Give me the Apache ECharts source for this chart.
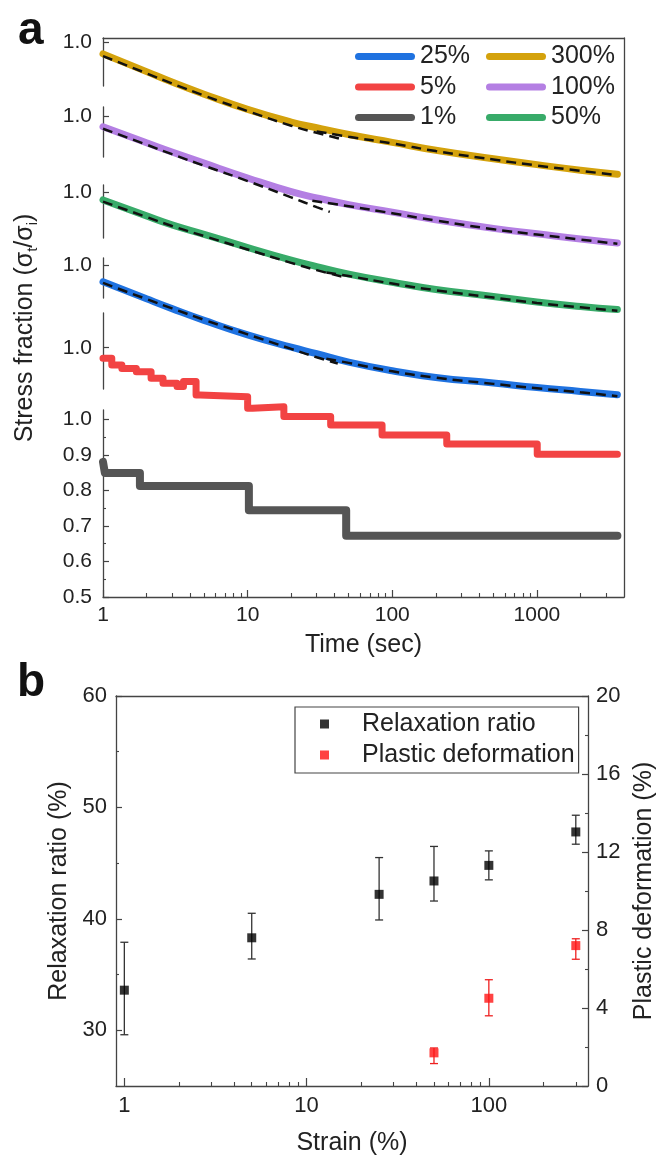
<!DOCTYPE html>
<html><head><meta charset="utf-8">
<script src="https://cdn.jsdelivr.net/npm/echarts@6/dist/echarts.min.js"></script>
<style>html,body{margin:0;padding:0;background:#fff}#c{width:656px;height:1157px}</style>
</head><body><div id="c"></div>
<script>
// ===== Panel a data: stress fraction vs time (sec) =====
const timeSec = [1, 2, 3, 5, 10, 20, 30, 50, 100, 200, 500, 1000, 2000, 3600];
const strain300 = [0.958, 0.895, 0.858, 0.815, 0.761, 0.716, 0.696, 0.672, 0.644, 0.616, 0.586, 0.565, 0.545, 0.531];
const strain100 = [0.964, 0.907, 0.874, 0.834, 0.781, 0.732, 0.710, 0.686, 0.659, 0.632, 0.601, 0.582, 0.563, 0.549];
const strain50  = [0.974, 0.917, 0.885, 0.851, 0.804, 0.759, 0.736, 0.709, 0.680, 0.654, 0.629, 0.609, 0.593, 0.582];
const strain25  = [0.940, 0.879, 0.844, 0.802, 0.750, 0.706, 0.683, 0.653, 0.622, 0.598, 0.578, 0.562, 0.548, 0.536];
const strain5Time = [1, 1.15, 1.35, 1.7, 2.15, 2.6, 3.25, 3.6, 4.4, 4.7, 10, 10.8, 17.8, 37.5, 85, 238, 1005, 3600];
const strain5     = [0.962, 0.938, 0.926, 0.914, 0.891, 0.873, 0.861, 0.879, 0.831, 0.825, 0.784, 0.789, 0.754, 0.724, 0.688, 0.656, 0.619, 0.619];
const strain1Time = [1, 1.03, 1.8, 10.2, 48, 3600];
const strain1     = [0.88, 0.849, 0.812, 0.744, 0.672, 0.672];

// fitted curves (dashed): early-time and long-time segments
const fit300EarlyT = [1, 2, 3, 5, 10, 20, 30, 45];
const fit300Early  = [0.950, 0.889, 0.853, 0.810, 0.755, 0.703, 0.678, 0.655];
const fit300LateT  = [30, 50, 100, 200, 500, 1000, 2000, 3600];
const fit300Late   = [0.683, 0.664, 0.640, 0.613, 0.583, 0.562, 0.543, 0.528];
const fit100EarlyT = [1, 2, 3, 5, 10, 20, 30, 37];
const fit100Early  = [0.957, 0.900, 0.866, 0.825, 0.770, 0.712, 0.677, 0.660];
const fit100LateT  = [28, 50, 100, 200, 500, 1000, 2000, 3600];
const fit100Late   = [0.700, 0.680, 0.655, 0.629, 0.598, 0.579, 0.561, 0.546];
const fit50EarlyT  = [1, 2, 3, 5, 10, 20, 30, 45];
const fit50Early   = [0.968, 0.913, 0.881, 0.845, 0.797, 0.749, 0.723, 0.700];
const fit50LateT   = [35, 50, 100, 200, 500, 1000, 2000, 3600];
const fit50Late    = [0.715, 0.702, 0.675, 0.651, 0.625, 0.606, 0.590, 0.578];
const fit25EarlyT  = [1, 2, 3, 5, 10, 20, 30, 42];
const fit25Early   = [0.936, 0.878, 0.845, 0.804, 0.752, 0.700, 0.670, 0.648];
const fit25LateT   = [35, 50, 100, 200, 500, 1000, 2000, 3600];
const fit25Late    = [0.665, 0.650, 0.620, 0.597, 0.575, 0.559, 0.545, 0.531];

const timeTicks = [1, 10, 100, 1000];
const timeMinorTicks = [2,3,4,5,6,7,8,9,20,30,40,50,60,70,80,90,200,300,400,500,600,700,800,900,2000,3000];
const fracTicks = [0.5, 0.6, 0.7, 0.8, 0.9, 1.0];
const fracMinorTicks = [0.55, 0.65, 0.75, 0.85, 0.95];

// ===== Panel b data =====
const strainPct = [1, 5, 25, 50, 100, 300];
const relaxRatio = [33.6, 38.3, 42.2, 43.4, 44.8, 47.8];
const relaxLow   = [29.6, 36.4, 39.9, 41.6, 43.5, 46.7];
const relaxHigh  = [37.9, 40.5, 45.5, 46.5, 46.1, 49.3];
const plasticStrain = [50, 100, 300];
const plasticDef  = [1.7, 4.5, 7.2];
const plasticLow  = [1.15, 3.6, 6.5];
const plasticHigh = [1.95, 5.45, 7.55];
const strainTicks = [1, 10, 100];
const strainMinorTicks = [2,3,4,5,6,7,8,9,20,30,40,50,60,70,80,90,200,300];
const relaxTicks = [30, 40, 50, 60];
const relaxMinorTicks = [35, 45, 55];
const plasticTicks = [0, 4, 8, 12, 16, 20];
const plasticMinorTicks = [2, 6, 10, 14, 18];

// ===== styling =====
const FONT = '"Liberation Sans", Arial, sans-serif';
const AXC = '#444';
const TXT = '#222';
const COL = {s300: '#d4a20c', s100: '#b47fe3', s50: '#38ab69', s25: '#1f72e0', s5: '#f24343', s1: '#555555'};
const zip = (a, b) => a.map((v, i) => [v, b[i]]);

const grids = [
  {left: 103, top: 38, width: 521, height: 559},   // 0 frame a
  {left: 103, top: 38, width: 521, height: 48},    // 1 300%
  {left: 103, top: 107, width: 521, height: 50},   // 2 100%
  {left: 103, top: 185, width: 521, height: 53},   // 3 50%
  {left: 103, top: 258, width: 521, height: 40},   // 4 25%
  {left: 103, top: 313, width: 521, height: 76},   // 5 5%
  {left: 103, top: 410, width: 521, height: 187},  // 6 1%
  {left: 116, top: 696, width: 472, height: 390}   // 7 panel b
].map(g => Object.assign({outerBoundsMode: 'none', containLabel: false}, g));

const lineAx = {show: true, lineStyle: {color: AXC, width: 1.3}};
const noLine = {show: false};
function hiddenLogX(gi) {
  return {gridIndex: gi, type: 'log', logBase: 10, min: 1, max: 4000, show: false};
}
const xAxes = [
  {gridIndex: 0, type: 'log', logBase: 10, min: 1, max: 4000, position: 'bottom',
   axisLine: lineAx, splitLine: {show: false},
   axisTick: {inside: true, length: 7, customValues: timeTicks, lineStyle: {color: AXC, width: 1.2}},
   axisLabel: {customValues: timeTicks, margin: 8, fontSize: 21, color: TXT, fontFamily: FONT, formatter: v => String(Math.round(v))},
   name: 'Time (sec)', nameLocation: 'middle', nameGap: 36,
   nameTextStyle: {fontSize: 25, color: TXT, fontFamily: FONT}},
  {gridIndex: 0, type: 'log', logBase: 10, min: 1, max: 4000, position: 'bottom',
   axisLine: noLine, splitLine: {show: false}, axisLabel: {show: false},
   axisTick: {inside: true, length: 4, customValues: timeMinorTicks, lineStyle: {color: AXC, width: 1.1}}},
  {gridIndex: 0, type: 'log', logBase: 10, min: 1, max: 4000, position: 'top',
   axisLine: lineAx, axisTick: {show: false}, axisLabel: {show: false}, splitLine: {show: false}},
  hiddenLogX(1), hiddenLogX(2), hiddenLogX(3), hiddenLogX(4), hiddenLogX(5), hiddenLogX(6),
  {gridIndex: 7, type: 'log', logBase: 10, min: 0.9, max: 350, position: 'bottom',
   axisLine: lineAx, splitLine: {show: false},
   axisTick: {inside: true, length: 8, customValues: strainTicks, lineStyle: {color: AXC, width: 1.2}},
   axisLabel: {customValues: strainTicks, margin: 9, fontSize: 22, color: TXT, fontFamily: FONT, formatter: v => String(Math.round(v))},
   name: 'Strain (%)', nameLocation: 'middle', nameGap: 45,
   nameTextStyle: {fontSize: 25, color: TXT, fontFamily: FONT}},
  {gridIndex: 7, type: 'log', logBase: 10, min: 0.9, max: 350, position: 'bottom',
   axisLine: noLine, splitLine: {show: false}, axisLabel: {show: false},
   axisTick: {inside: true, length: 4, customValues: strainMinorTicks, lineStyle: {color: AXC, width: 1.1}}},
  {gridIndex: 7, type: 'log', logBase: 10, min: 0.9, max: 350, position: 'top',
   axisLine: lineAx, axisTick: {show: false}, axisLabel: {show: false}, splitLine: {show: false}}
];

function segY(gi, min, max) {
  return {gridIndex: gi, type: 'value', min: min, max: max, position: 'left',
    axisLine: lineAx, splitLine: {show: false},
    axisTick: {inside: true, length: 6, customValues: [1.0], lineStyle: {color: AXC, width: 1.2}},
    axisLabel: {customValues: [1.0], margin: 11, fontSize: 21, color: TXT, fontFamily: FONT, formatter: v => v.toFixed(1)}};
}
const yAxes = [
  {gridIndex: 0, type: 'value', min: 0, max: 1, position: 'right', axisLine: lineAx,
   axisTick: {show: false}, axisLabel: {show: false}, splitLine: {show: false}},
  segY(1, 0.844, 1.0143),
  segY(2, 0.856, 1.0346),
  segY(3, 0.838, 1.0275),
  segY(4, 0.882, 1.025),
  segY(5, 0.8525, 1.124),
  {gridIndex: 6, type: 'value', min: 0.5, max: 1.026, position: 'left', axisLine: lineAx, splitLine: {show: false},
   axisTick: {inside: true, length: 6, customValues: fracTicks, lineStyle: {color: AXC, width: 1.2}},
   axisLabel: {customValues: fracTicks, margin: 11, fontSize: 21, color: TXT, fontFamily: FONT, formatter: v => v.toFixed(1)}},
  {gridIndex: 6, type: 'value', min: 0.5, max: 1.026, position: 'left', axisLine: noLine, splitLine: {show: false},
   axisTick: {inside: true, length: 3, customValues: fracMinorTicks, lineStyle: {color: AXC, width: 1.1}},
   axisLabel: {show: false}},
  {gridIndex: 7, type: 'value', min: 25, max: 60, position: 'left', axisLine: lineAx, splitLine: {show: false},
   axisTick: {inside: true, length: 6, customValues: relaxTicks, lineStyle: {color: AXC, width: 1.2}},
   axisLabel: {customValues: relaxTicks, margin: 9, fontSize: 22, color: TXT, fontFamily: FONT},
   name: 'Relaxation ratio (%)', nameLocation: 'middle', nameGap: 44, nameRotate: 90,
   nameTextStyle: {fontSize: 25, color: TXT, fontFamily: FONT}},
  {gridIndex: 7, type: 'value', min: 25, max: 60, position: 'left', axisLine: noLine, splitLine: {show: false},
   axisTick: {inside: true, length: 3, customValues: relaxMinorTicks, lineStyle: {color: AXC, width: 1.1}},
   axisLabel: {show: false}},
  {gridIndex: 7, type: 'value', min: 0, max: 20, position: 'right', axisLine: lineAx, splitLine: {show: false},
   axisTick: {inside: true, length: 6, customValues: plasticTicks, lineStyle: {color: AXC, width: 1.2}},
   axisLabel: {customValues: plasticTicks, margin: 8, fontSize: 22, color: TXT, fontFamily: FONT},
   name: 'Plastic deformation (%)', nameLocation: 'middle', nameGap: 43, nameRotate: 90,
   nameTextStyle: {fontSize: 25, color: TXT, fontFamily: FONT}},
  {gridIndex: 7, type: 'value', min: 0, max: 20, position: 'right', axisLine: noLine, splitLine: {show: false},
   axisTick: {inside: true, length: 3, customValues: plasticMinorTicks, lineStyle: {color: AXC, width: 1.1}},
   axisLabel: {show: false}}
];

function curve(name, xi, yi, t, v, color, extra) {
  return Object.assign({type: 'line', name: name, xAxisIndex: xi, yAxisIndex: yi, data: zip(t, v),
    showSymbol: false, symbol: 'none', clip: false, smooth: 0.5, z: 2, color: color,
    itemStyle: {color: color},
    lineStyle: {color: color, width: 7, cap: 'round', join: 'round'}}, extra || {});
}
function fit(xi, yi, t, v) {
  return {type: 'line', xAxisIndex: xi, yAxisIndex: yi, data: zip(t, v), showSymbol: false, symbol: 'none',
    clip: false, smooth: 0.5, z: 4, silent: true,
    lineStyle: {color: '#111', width: 2.5, type: [10, 6]}};
}
function errRender(color) {
  return function (params, api) {
    const x = api.value(0), lo = api.value(1), hi = api.value(2);
    const p1 = api.coord([x, lo]), p2 = api.coord([x, hi]);
    const w = 4;
    const st = {stroke: color, lineWidth: 1.3};
    return {type: 'group', children: [
      {type: 'line', shape: {x1: p1[0], y1: p1[1], x2: p2[0], y2: p2[1]}, style: st},
      {type: 'line', shape: {x1: p1[0] - w, y1: p1[1], x2: p1[0] + w, y2: p1[1]}, style: st},
      {type: 'line', shape: {x1: p2[0] - w, y1: p2[1], x2: p2[0] + w, y2: p2[1]}, style: st}
    ]};
  };
}

const series = [
  curve('300%', 3, 1, timeSec, strain300, COL.s300),
  fit(3, 1, fit300EarlyT, fit300Early), fit(3, 1, fit300LateT, fit300Late),
  curve('100%', 4, 2, timeSec, strain100, COL.s100),
  fit(4, 2, fit100EarlyT, fit100Early), fit(4, 2, fit100LateT, fit100Late),
  curve('50%', 5, 3, timeSec, strain50, COL.s50),
  fit(5, 3, fit50EarlyT, fit50Early), fit(5, 3, fit50LateT, fit50Late),
  curve('25%', 6, 4, timeSec, strain25, COL.s25),
  fit(6, 4, fit25EarlyT, fit25Early), fit(6, 4, fit25LateT, fit25Late),
  curve('5%', 7, 5, strain5Time, strain5, COL.s5, {step: 'end', smooth: false}),
  curve('1%', 8, 6, strain1Time, strain1, COL.s1, {step: 'end', smooth: false, lineStyle: {color: COL.s1, width: 8, cap: 'round', join: 'round'}}),
  {type: 'custom', xAxisIndex: 9, yAxisIndex: 8, renderItem: errRender('#333'),
   data: strainPct.map((s, i) => [s, relaxLow[i], relaxHigh[i]]), encode: {x: 0, y: [1, 2]}, z: 3, silent: true},
  {type: 'custom', xAxisIndex: 9, yAxisIndex: 10, renderItem: errRender('#ee2020'),
   data: plasticStrain.map((s, i) => [s, plasticLow[i], plasticHigh[i]]), encode: {x: 0, y: [1, 2]}, z: 3, silent: true},
  {type: 'scatter', name: 'Relaxation ratio', xAxisIndex: 9, yAxisIndex: 8, data: zip(strainPct, relaxRatio),
   symbol: 'rect', symbolSize: 9, itemStyle: {color: '#000'}, z: 5},
  {type: 'scatter', name: 'Plastic deformation', xAxisIndex: 9, yAxisIndex: 10, data: zip(plasticStrain, plasticDef),
   symbol: 'rect', symbolSize: 9, itemStyle: {color: '#ff1414'}, z: 5}
];

const capsule = 'path://M3.5,0 L56.5,0 A3.5,3.5 0 0 1 56.5,7 L3.5,7 A3.5,3.5 0 0 1 3.5,0 Z';
const legA = (data, left) => ({data: data, orient: 'vertical', left: left, top: 44, icon: capsule,
  itemWidth: 60, itemHeight: 7, itemGap: 5.5, padding: 0, selectedMode: false,
  textStyle: {fontSize: 25, lineHeight: 25, color: TXT, fontFamily: FONT}});

const option = {
  animation: false,
  backgroundColor: '#fff',
  grid: grids,
  xAxis: xAxes,
  yAxis: yAxes,
  legend: [
    legA(['25%', '5%', '1%'], 355),
    legA(['300%', '100%', '50%'], 486),
    {data: ['Relaxation ratio', 'Plastic deformation'], orient: 'vertical', left: 295, top: 707,
     icon: 'rect', itemWidth: 9, itemHeight: 9, itemGap: 3, selectedMode: false,
     borderColor: '#444', borderWidth: 1.2, padding: [3, 4, 4, 25],
     textStyle: {fontSize: 25, lineHeight: 28, color: TXT, fontFamily: FONT, padding: [0, 0, 0, 28]}}
  ],
  graphic: [
    {type: 'text', left: 18, top: 8, style: {text: 'a', fontSize: 46, fontWeight: 'bold', fontFamily: FONT, fill: '#111'}},
    {type: 'text', left: 17, top: 660, style: {text: 'b', fontSize: 46, fontWeight: 'bold', fontFamily: FONT, fill: '#111'}},
    {type: 'text', x: 25, y: 328, rotation: Math.PI / 2,
     style: {text: 'Stress fraction (σ{s|t}/σ{s|i})', fontSize: 25, fontFamily: FONT, fill: TXT,
       align: 'center', verticalAlign: 'middle', lineHeight: 30,
       rich: {s: {fontSize: 15, fontFamily: FONT, fill: TXT, verticalAlign: 'bottom', lineHeight: 30, padding: [10, 0, 0, 0]}}}}
  ],
  series: series
};
const chart = echarts.init(document.getElementById('c'), null, {renderer: 'canvas'});
chart.setOption(option);
</script></body></html>
